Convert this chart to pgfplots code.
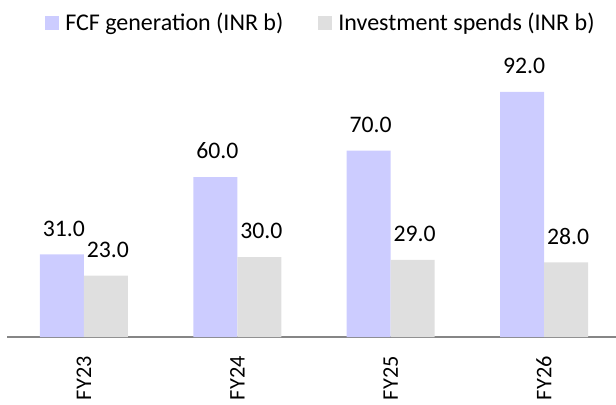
\documentclass[border=0pt]{standalone}
\usepackage{fontspec}
\setmainfont{Carlito}
\usepackage{graphicx}
\usepackage{pgfplots}
\pgfplotsset{compat=1.18}
\definecolor{fcf}{RGB}{204,204,255}
\definecolor{inv}{RGB}{223,223,223}
\definecolor{axisgray}{RGB}{134,134,134}
\begin{document}
\begin{tikzpicture}
\useasboundingbox (-7.3bp,-68bp) rectangle (608.7bp,337bp);
\begin{axis}[
  scale only axis,
  width=613.4bp, height=277bp,
  xmin=-0.5, xmax=3.5, ymin=0, ymax=104,
  axis x line*=bottom,
  axis y line=none,
  x axis line style={draw=axisgray, line width=1.6bp, -},
  xtick={0,1,2,3},
  xticklabels={\rotatebox{90}{FY23},\rotatebox{90}{FY24},\rotatebox{90}{FY25},\rotatebox{90}{FY26}},
  xtick style={draw=none},
  xticklabel style={anchor=north, inner sep=0pt, outer sep=0pt, font=\fontsize{22.4}{26}\selectfont, yshift=-15bp},
  ybar, bar width=44bp,
  /pgf/number format/assume math mode=true,
  nodes near coords,
  nodes near coords style={font=\fontsize{23.8}{28}\selectfont, anchor=south, inner sep=0pt, yshift=18bp, xshift=2bp,
     /pgf/number format/.cd, fixed, fixed zerofill, precision=1},
  legend columns=2,
  legend style={at={(0.0619,1.1697)}, anchor=north west, draw=none, inner sep=0pt, outer sep=0pt,
    font=\fontsize{24.1}{28}\selectfont,
    nodes={inner sep=0pt},
    /tikz/every odd column/.append style={column sep=6bp},
    /tikz/every even column/.append style={column sep=35bp}},
  legend image code/.code={\fill[#1] (0bp,-7bp) rectangle (14bp,7bp);},
  clip=false,
]
\addplot[fill=fcf, draw=none, bar shift=-22bp] coordinates {(0,31) (1,60) (2,70) (3,92)};
\addplot[fill=inv, draw=none, bar shift=22bp] coordinates {(0,23) (1,30) (2,29) (3,28)};
\legend{FCF generation (INR b), Investment spends (INR b)}
\end{axis}
\end{tikzpicture}
\end{document}
